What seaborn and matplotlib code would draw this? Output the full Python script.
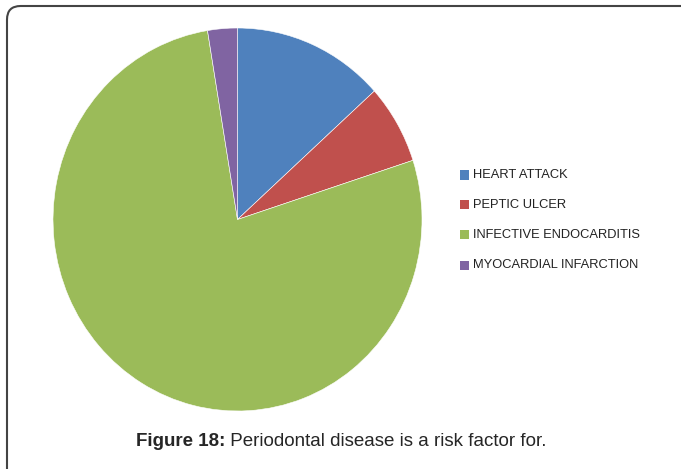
import matplotlib
matplotlib.use("Agg")
import matplotlib.pyplot as plt
import seaborn as sns
from matplotlib.patches import FancyBboxPatch

categories = ["HEART ATTACK", "PEPTIC ULCER", "INFECTIVE ENDOCARDITIS", "MYOCARDIAL INFARCTION"]
values = [13.3, 6.7, 77.4, 2.6]
colors = ["#4F81BD", "#C0504D", "#9BBB59", "#8064A2"]
caption_bold = "Figure 18:"
caption_rest = " Periodontal disease is a risk factor for."

sns.set_style("white")
plt.rcParams['font.family'] = ['Liberation Sans', 'DejaVu Sans']

W, H = 681, 469
fig = plt.figure(figsize=(W / 100, H / 100), dpi=100)
fig.patch.set_facecolor("white")

# pie axes in pixel coords
cx, cy, rx, ry = 237.5, 219.5, 184.5, 191.5
ax = fig.add_axes([(cx - rx) / W, (H - cy - ry) / H, 2 * rx / W, 2 * ry / H])
wedges, _ = ax.pie(values, colors=sns.color_palette(colors), startangle=90, counterclock=False,
                   radius=1.0, wedgeprops=dict(edgecolor="white", linewidth=0.4))
ax.set_aspect("auto")
ax.set_xlim(-1, 1)
ax.set_ylim(-1, 1)
ax.axis("off")

# legend
lx, ly0, dy = 460, 175, 30
for i, (lab, col) in enumerate(zip(categories, colors)):
    y = ly0 + i * dy
    fig.patches.append(plt.Rectangle(((lx) / W, (H - y - 4.5) / H), 9 / W, 9 / H,
                                     transform=fig.transFigure, facecolor=col, edgecolor="none"))
    fig.text((lx + 13) / W, (H - y) / H, lab, fontsize=9.3,
             color="#222222", va="center", ha="left")

# caption, centred
cap_y = (H - 441) / H
t1 = fig.text(0, cap_y, caption_bold, fontsize=13.5, fontweight="bold", va="center", ha="left")
t2 = fig.text(0, cap_y, caption_rest, fontsize=13.5, va="center", ha="left")
fig.canvas.draw()
w1 = t1.get_window_extent().width
w2 = t2.get_window_extent().width
x0 = 341.5 - (w1 + w2) / 2
t1.set_x(x0 / W)
t2.set_x((x0 + w1) / W)

# border: top and left with rounded corner (clipped frame)
box = FancyBboxPatch((7 / W, -0.1), 1.2, (H - 6) / H + 0.1,
                     boxstyle="round,pad=0,rounding_size=0.02",
                     transform=fig.transFigure, facecolor="none", edgecolor="#444444", linewidth=1.5,
                     mutation_aspect=W / H)
fig.patches.append(box)

fig.savefig("out.png", dpi=100, facecolor="white")
